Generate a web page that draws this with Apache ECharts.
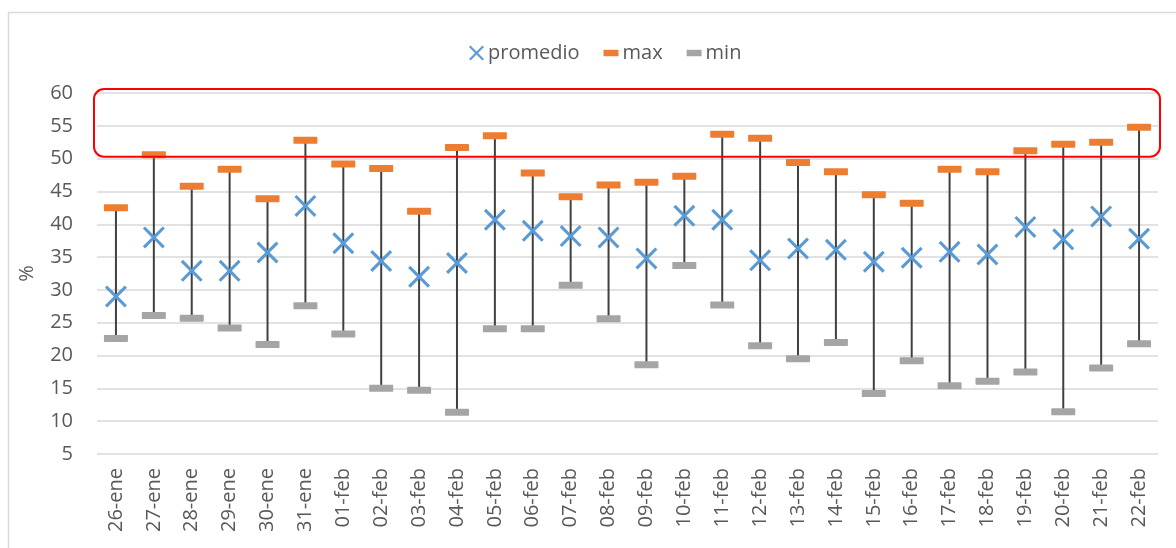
<!DOCTYPE html>
<html>
<head>
<meta charset="utf-8">
<script src="https://cdn.jsdelivr.net/npm/echarts@6/dist/echarts.min.js"></script>
<style>
html,body{margin:0;padding:0;background:#fff;}
#chart{width:1176px;height:548px;}
</style>
</head>
<body>
<div id="chart"></div>
<script>
const categories = ['26-ene','27-ene','28-ene','29-ene','30-ene','31-ene','01-feb','02-feb','03-feb','04-feb','05-feb','06-feb','07-feb','08-feb','09-feb','10-feb','11-feb','12-feb','13-feb','14-feb','15-feb','16-feb','17-feb','18-feb','19-feb','20-feb','21-feb','22-feb'];
const promedio = [29.0,38.0,32.9,32.9,35.7,42.8,37.1,34.4,32.0,34.1,40.7,39.0,38.2,38.0,34.8,41.3,40.7,34.5,36.3,36.1,34.3,34.9,35.8,35.4,39.6,37.7,41.2,37.8];
const maxVals = [42.5,50.6,45.8,48.4,43.9,52.8,49.2,48.5,42.0,51.7,53.5,47.8,44.2,46.0,46.4,47.3,53.7,53.1,49.4,48.0,44.5,43.2,48.4,48.0,51.2,52.2,52.5,54.8];
const minVals = [22.6,26.1,25.7,24.2,21.7,27.6,23.3,15.0,14.7,11.35,24.1,24.1,30.7,25.6,18.6,33.7,27.7,21.5,19.5,22.0,14.2,19.2,15.4,16.1,17.5,11.45,18.1,21.8];
const yTicks = {min:5, max:60, interval:5};
const highlightBand = [50.3, 60.6];

const xPath = 'path://M0,10L10,0L50,40L90,0L100,10L60,50L100,90L90,100L50,60L10,100L0,90L40,50Z';
const capPath = 'path://M2,0H98Q100,0 100,5V25Q100,30 98,30H2Q0,30 0,25V5Q0,0 2,0Z';
const FONT = 'Open Sans';
const TXT = '#595959';
const FS = 20;

const chart = echarts.init(document.getElementById('chart'), null, {renderer:'canvas'});
const rangeData = categories.map((c,i)=>[i, minVals[i], maxVals[i]]);

const option = {
  animation:false,
  backgroundColor:'#ffffff',
  textStyle:{fontFamily:FONT},
  legend:{
    left:464, top:38, itemGap:24,
    itemWidth:15, itemHeight:16,
    textStyle:{fontFamily:FONT,fontSize:FS,color:TXT,padding:[0,0,0,-1]},
    data:[
      {name:'promedio', icon:xPath, itemStyle:{color:'#5B9BD5'}},
      {name:'max', icon:'path://M0,0H14V6H0Z', itemStyle:{color:'#ED7D31'}},
      {name:'min', icon:'path://M0,0H14V6H0Z', itemStyle:{color:'#A5A5A5'}}
    ]
  },
  grid:{left:97,right:18,top:93,bottom:94,containLabel:false},
  xAxis:{
    type:'category', data:categories,
    axisLine:{show:false}, axisTick:{show:false},
    axisLabel:{rotate:90, fontFamily:FONT, fontSize:FS, color:TXT, margin:14, interval:0}
  },
  yAxis:{
    type:'value', min:yTicks.min, max:yTicks.max, interval:yTicks.interval,
    name:'%', nameLocation:'middle', nameGap:60, nameRotate:90,
    nameTextStyle:{fontFamily:FONT,fontSize:FS,color:TXT},
    axisLine:{show:false}, axisTick:{show:false},
    axisLabel:{fontFamily:FONT,fontSize:FS,color:TXT,margin:24},
    splitLine:{lineStyle:{color:'#D9D9D9',width:1.5}}
  },
  series:[
    {
      name:'range', type:'custom', z:1, silent:true,
      renderItem:function(params, api){
        const p1 = api.coord([api.value(0), api.value(1)]);
        const p2 = api.coord([api.value(0), api.value(2)]);
        return {type:'line', shape:{x1:p1[0],y1:p1[1],x2:p2[0],y2:p2[1]}, style:{stroke:'#404040',lineWidth:2}};
      },
      data:rangeData
    },
    {
      name:'max', type:'scatter', z:3, symbol:capPath, symbolSize:[24,7],
      itemStyle:{color:'#ED7D31',opacity:1}, data:maxVals
    },
    {
      name:'min', type:'scatter', z:3, symbol:capPath, symbolSize:[24,7],
      itemStyle:{color:'#A5A5A5',opacity:1}, data:minVals
    },
    {
      name:'promedio', type:'scatter', z:4, symbol:xPath, symbolSize:22,
      itemStyle:{color:'#5B9BD5',opacity:1}, data:promedio
    }
  ]
};
chart.setOption(option);

function drawDecor(){
  const pTop = chart.convertToPixel({gridIndex:0},[0,highlightBand[1]]);
  const pBot = chart.convertToPixel({gridIndex:0},[categories.length-1,highlightBand[0]]);
  const grid = chart.getModel().getComponent('grid',0).coordinateSystem.getRect();
  chart.setOption({graphic:[
    {type:'rect', left:6, top:10, shape:{x:0,y:0,width:1300,height:700},
     style:{fill:'none',stroke:'#D9D9D9',lineWidth:1.5}, silent:true, z:0},
    {type:'rect', shape:{x:grid.x-3, y:pTop[1], width:grid.width+5, height:pBot[1]-pTop[1], r:10},
     style:{fill:'none',stroke:'#FF0000',lineWidth:2}, silent:true, z:10}
  ]});
}
drawDecor();
</script>
</body>
</html>
